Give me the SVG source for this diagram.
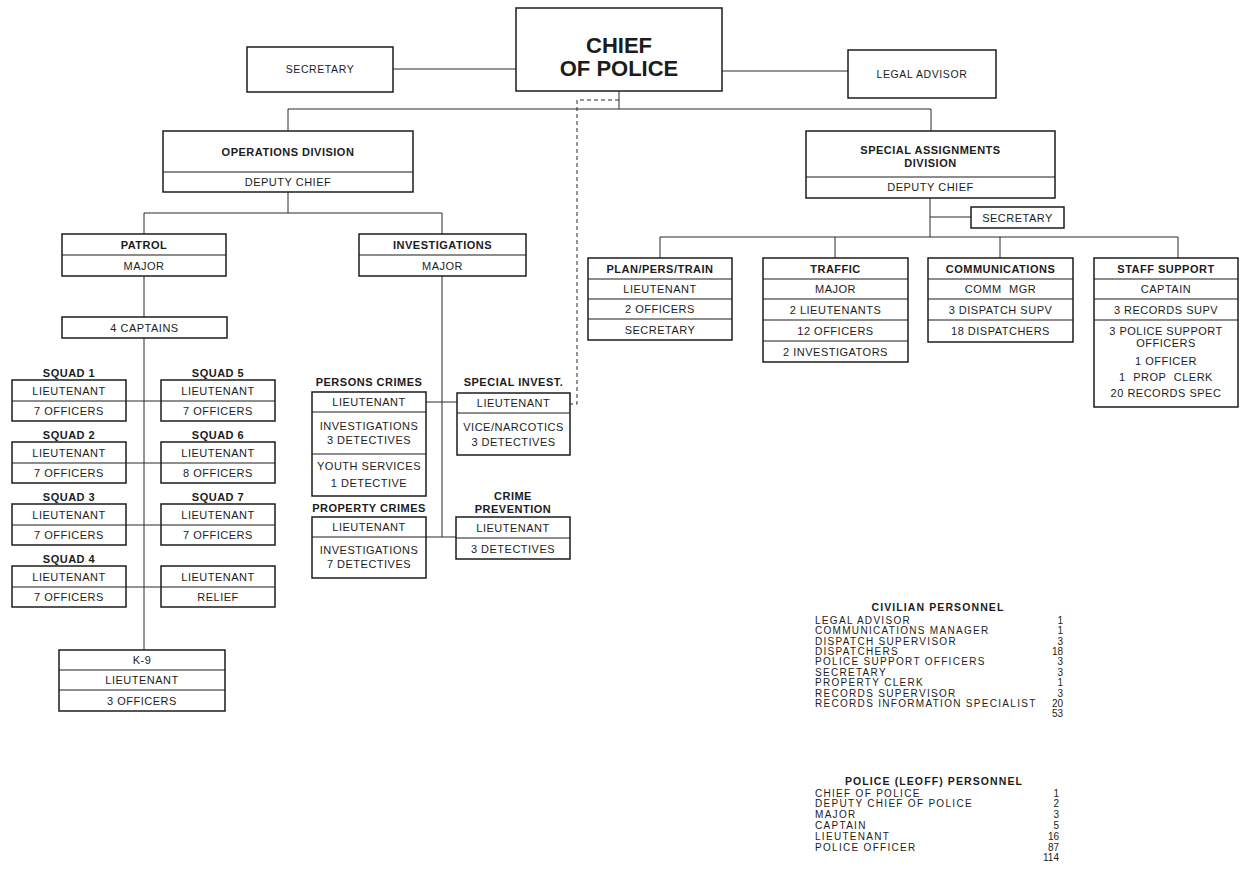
<svg xmlns="http://www.w3.org/2000/svg" width="1241" height="888" viewBox="0 0 1241 888">
<style>
.box{fill:#fff;stroke:#1c1c1c;stroke-width:1.5}
.dv{stroke:#1c1c1c;stroke-width:1.2;fill:none}
.conn{stroke:#2a2a2a;stroke-width:1;fill:none}
.dash{stroke-dasharray:4 3}
text{font-family:"Liberation Sans",Arial,Helvetica,sans-serif;fill:#1c1c1c}
.t{font-size:11px;text-anchor:middle;letter-spacing:0.5px}
.b{font-weight:bold}
.big{font-size:22px;font-weight:bold;text-anchor:middle}
.sm{font-size:10.5px;text-anchor:middle;letter-spacing:0.6px}
.li{font-size:10px;letter-spacing:1.3px}
.lh{font-size:10.5px;font-weight:bold;letter-spacing:1.1px;text-anchor:middle}
.n{font-size:10px;text-anchor:end}
</style>
<rect width="1241" height="888" fill="#fff"/>

<g id="connectors">
  <path class="conn" d="M393 69 H516 M722 71 H848"/>
  <path class="conn" d="M619 91 V109 M288 109 H931 M288 109 V131 M931 109 V131"/>
  <path class="conn dash" d="M619 100 H577 V404 H570"/>
  <path class="conn" d="M288 192 V213 M144 213 H442 M144 213 V234 M442 213 V234"/>
  <path class="conn" d="M144 276 V317 M144 338 V650"/>
  <path class="conn" d="M126 401 H161 M126 463 H161 M126 525 H161 M126 587 H161"/>
  <path class="conn" d="M442 276 V537 M426 402 H457 M426 537 H456"/>
  <path class="conn" d="M930 198 V237 M930 217 H971 M660 237 H1178 M660 237 V258 M835 237 V258 M1000 237 V258 M1178 237 V258"/>
</g>

<g id="chief">
  <rect class="box" x="516" y="8" width="206" height="83"/>
  <text class="big" x="619" y="53">CHIEF</text>
  <text class="big" x="619" y="76">OF POLICE</text>
</g>
<g id="secretary-top">
  <rect class="box" x="247" y="47" width="146" height="45"/>
  <text class="sm" x="320" y="73">SECRETARY</text>
</g>
<g id="legal-advisor">
  <rect class="box" x="848" y="50" width="148" height="48"/>
  <text class="sm" x="922" y="78">LEGAL ADVISOR</text>
</g>

<g id="operations">
  <rect class="box" x="163" y="131" width="250" height="61"/>
  <line class="dv" x1="163" y1="172" x2="413" y2="172"/>
  <text class="t b" x="288" y="156">OPERATIONS DIVISION</text>
  <text class="t" x="288" y="186">DEPUTY CHIEF</text>
</g>

<g id="patrol">
  <rect class="box" x="62" y="234" width="164" height="42"/>
  <line class="dv" x1="62" y1="255" x2="226" y2="255"/>
  <text class="t b" x="144" y="249">PATROL</text>
  <text class="t" x="144" y="270">MAJOR</text>
</g>
<g id="captains">
  <rect class="box" x="62" y="317" width="165" height="21"/>
  <text class="t" x="144.5" y="332">4 CAPTAINS</text>
</g>

<g id="squad1">
  <text class="t b" x="69" y="377">SQUAD 1</text>
  <rect class="box" x="12" y="380" width="114" height="41"/>
  <line class="dv" x1="12" y1="401" x2="126" y2="401"/>
  <text class="t" x="69" y="395">LIEUTENANT</text>
  <text class="t" x="69" y="415">7 OFFICERS</text>
</g>
<g id="squad5">
  <text class="t b" x="218" y="377">SQUAD 5</text>
  <rect class="box" x="161" y="380" width="114" height="41"/>
  <line class="dv" x1="161" y1="401" x2="275" y2="401"/>
  <text class="t" x="218" y="395">LIEUTENANT</text>
  <text class="t" x="218" y="415">7 OFFICERS</text>
</g>
<g id="squad2">
  <text class="t b" x="69" y="439">SQUAD 2</text>
  <rect class="box" x="12" y="442" width="114" height="41"/>
  <line class="dv" x1="12" y1="463" x2="126" y2="463"/>
  <text class="t" x="69" y="457">LIEUTENANT</text>
  <text class="t" x="69" y="477">7 OFFICERS</text>
</g>
<g id="squad6">
  <text class="t b" x="218" y="439">SQUAD 6</text>
  <rect class="box" x="161" y="442" width="114" height="41"/>
  <line class="dv" x1="161" y1="463" x2="275" y2="463"/>
  <text class="t" x="218" y="457">LIEUTENANT</text>
  <text class="t" x="218" y="477">8 OFFICERS</text>
</g>
<g id="squad3">
  <text class="t b" x="69" y="501">SQUAD 3</text>
  <rect class="box" x="12" y="504" width="114" height="41"/>
  <line class="dv" x1="12" y1="525" x2="126" y2="525"/>
  <text class="t" x="69" y="519">LIEUTENANT</text>
  <text class="t" x="69" y="539">7 OFFICERS</text>
</g>
<g id="squad7">
  <text class="t b" x="218" y="501">SQUAD 7</text>
  <rect class="box" x="161" y="504" width="114" height="41"/>
  <line class="dv" x1="161" y1="525" x2="275" y2="525"/>
  <text class="t" x="218" y="519">LIEUTENANT</text>
  <text class="t" x="218" y="539">7 OFFICERS</text>
</g>
<g id="squad4">
  <text class="t b" x="69" y="563">SQUAD 4</text>
  <rect class="box" x="12" y="566" width="114" height="41"/>
  <line class="dv" x1="12" y1="587" x2="126" y2="587"/>
  <text class="t" x="69" y="581">LIEUTENANT</text>
  <text class="t" x="69" y="601">7 OFFICERS</text>
</g>
<g id="relief">
  <rect class="box" x="161" y="566" width="114" height="41"/>
  <line class="dv" x1="161" y1="587" x2="275" y2="587"/>
  <text class="t" x="218" y="581">LIEUTENANT</text>
  <text class="t" x="218" y="601">RELIEF</text>
</g>
<g id="k9">
  <rect class="box" x="59" y="650" width="166" height="61"/>
  <line class="dv" x1="59" y1="670" x2="225" y2="670"/>
  <line class="dv" x1="59" y1="690" x2="225" y2="690"/>
  <text class="t" x="142" y="664">K-9</text>
  <text class="t" x="142" y="684">LIEUTENANT</text>
  <text class="t" x="142" y="705">3 OFFICERS</text>
</g>

<g id="investigations">
  <rect class="box" x="359" y="234" width="167" height="42"/>
  <line class="dv" x1="359" y1="255" x2="526" y2="255"/>
  <text class="t b" x="442.5" y="249">INVESTIGATIONS</text>
  <text class="t" x="442.5" y="270">MAJOR</text>
</g>
<g id="persons-crimes">
  <text class="t b" x="369" y="386">PERSONS CRIMES</text>
  <rect class="box" x="312" y="392" width="114" height="104"/>
  <line class="dv" x1="312" y1="412" x2="426" y2="412"/>
  <line class="dv" x1="312" y1="454" x2="426" y2="454"/>
  <text class="t" x="369" y="406">LIEUTENANT</text>
  <text class="t" x="369" y="430">INVESTIGATIONS</text>
  <text class="t" x="369" y="444">3 DETECTIVES</text>
  <text class="t" x="369" y="470">YOUTH SERVICES</text>
  <text class="t" x="369" y="487">1 DETECTIVE</text>
</g>
<g id="special-invest">
  <text class="t b" x="513.5" y="386">SPECIAL INVEST.</text>
  <rect class="box" x="457" y="393" width="113" height="62"/>
  <line class="dv" x1="457" y1="413" x2="570" y2="413"/>
  <text class="t" x="513.5" y="407">LIEUTENANT</text>
  <text class="t" x="513.5" y="431">VICE/NARCOTICS</text>
  <text class="t" x="513.5" y="446">3 DETECTIVES</text>
</g>
<g id="property-crimes">
  <text class="t b" x="369" y="512">PROPERTY CRIMES</text>
  <rect class="box" x="312" y="517" width="114" height="61"/>
  <line class="dv" x1="312" y1="537" x2="426" y2="537"/>
  <text class="t" x="369" y="531">LIEUTENANT</text>
  <text class="t" x="369" y="554">INVESTIGATIONS</text>
  <text class="t" x="369" y="568">7 DETECTIVES</text>
</g>
<g id="crime-prevention">
  <text class="t b" x="513" y="500">CRIME</text>
  <text class="t b" x="513" y="513">PREVENTION</text>
  <rect class="box" x="456" y="517" width="114" height="42"/>
  <line class="dv" x1="456" y1="538" x2="570" y2="538"/>
  <text class="t" x="513" y="532">LIEUTENANT</text>
  <text class="t" x="513" y="553">3 DETECTIVES</text>
</g>

<g id="special-assignments">
  <rect class="box" x="806" y="131" width="249" height="67"/>
  <line class="dv" x1="806" y1="177" x2="1055" y2="177"/>
  <text class="t b" x="930.5" y="154">SPECIAL ASSIGNMENTS</text>
  <text class="t b" x="930.5" y="167">DIVISION</text>
  <text class="t" x="930.5" y="191">DEPUTY CHIEF</text>
</g>
<g id="secretary-sa">
  <rect class="box" x="971" y="207" width="93" height="21"/>
  <text class="t" x="1017.5" y="222">SECRETARY</text>
</g>
<g id="plan-pers-train">
  <rect class="box" x="588" y="258" width="144" height="82"/>
  <line class="dv" x1="588" y1="279" x2="732" y2="279"/>
  <line class="dv" x1="588" y1="299" x2="732" y2="299"/>
  <line class="dv" x1="588" y1="319" x2="732" y2="319"/>
  <text class="t b" x="660" y="273">PLAN/PERS/TRAIN</text>
  <text class="t" x="660" y="293">LIEUTENANT</text>
  <text class="t" x="660" y="313">2 OFFICERS</text>
  <text class="t" x="660" y="334">SECRETARY</text>
</g>
<g id="traffic">
  <rect class="box" x="763" y="258" width="145" height="104"/>
  <line class="dv" x1="763" y1="279" x2="908" y2="279"/>
  <line class="dv" x1="763" y1="299" x2="908" y2="299"/>
  <line class="dv" x1="763" y1="320" x2="908" y2="320"/>
  <line class="dv" x1="763" y1="341" x2="908" y2="341"/>
  <text class="t b" x="835.5" y="273">TRAFFIC</text>
  <text class="t" x="835.5" y="293">MAJOR</text>
  <text class="t" x="835.5" y="314">2 LIEUTENANTS</text>
  <text class="t" x="835.5" y="335">12 OFFICERS</text>
  <text class="t" x="835.5" y="356">2 INVESTIGATORS</text>
</g>
<g id="communications">
  <rect class="box" x="928" y="258" width="145" height="84"/>
  <line class="dv" x1="928" y1="279" x2="1073" y2="279"/>
  <line class="dv" x1="928" y1="299" x2="1073" y2="299"/>
  <line class="dv" x1="928" y1="320" x2="1073" y2="320"/>
  <text class="t b" x="1000.5" y="273">COMMUNICATIONS</text>
  <text class="t" x="1000.5" y="293" word-spacing="4">COMM MGR</text>
  <text class="t" x="1000.5" y="314">3 DISPATCH SUPV</text>
  <text class="t" x="1000.5" y="335">18 DISPATCHERS</text>
</g>
<g id="staff-support">
  <rect class="box" x="1094" y="258" width="144" height="149"/>
  <line class="dv" x1="1094" y1="279" x2="1238" y2="279"/>
  <line class="dv" x1="1094" y1="299" x2="1238" y2="299"/>
  <line class="dv" x1="1094" y1="320" x2="1238" y2="320"/>
  <text class="t b" x="1166" y="273">STAFF SUPPORT</text>
  <text class="t" x="1166" y="293">CAPTAIN</text>
  <text class="t" x="1166" y="314">3 RECORDS SUPV</text>
  <text class="t" x="1166" y="335">3 POLICE SUPPORT</text>
  <text class="t" x="1166" y="347">OFFICERS</text>
  <text class="t" x="1166" y="365">1 OFFICER</text>
  <text class="t" x="1166" y="381" word-spacing="4">1 PROP CLERK</text>
  <text class="t" x="1166" y="397">20 RECORDS SPEC</text>
</g>

<g id="civilian-personnel">
  <text class="lh" x="938" y="611">CIVILIAN PERSONNEL</text>
  <text class="li" x="815" y="623.5">LEGAL ADVISOR</text>
  <text class="li" x="815" y="634">COMMUNICATIONS MANAGER</text>
  <text class="li" x="815" y="644.5">DISPATCH SUPERVISOR</text>
  <text class="li" x="815" y="654.5">DISPATCHERS</text>
  <text class="li" x="815" y="665">POLICE SUPPORT OFFICERS</text>
  <text class="li" x="815" y="675.5">SECRETARY</text>
  <text class="li" x="815" y="686">PROPERTY CLERK</text>
  <text class="li" x="815" y="696.5">RECORDS SUPERVISOR</text>
  <text class="li" x="815" y="706.5">RECORDS INFORMATION SPECIALIST</text>
  <text class="n" x="1063" y="623.5">1</text>
  <text class="n" x="1063" y="634">1</text>
  <text class="n" x="1063" y="644.5">3</text>
  <text class="n" x="1063" y="654.5">18</text>
  <text class="n" x="1063" y="665">3</text>
  <text class="n" x="1063" y="675.5">3</text>
  <text class="n" x="1063" y="686">1</text>
  <text class="n" x="1063" y="696.5">3</text>
  <text class="n" x="1063" y="706.5">20</text>
  <text class="n" x="1063" y="717">53</text>
</g>

<g id="police-personnel">
  <text class="lh" x="934" y="785">POLICE (LEOFF) PERSONNEL</text>
  <text class="li" x="815" y="796.5">CHIEF OF POLICE</text>
  <text class="li" x="815" y="807">DEPUTY CHIEF OF POLICE</text>
  <text class="li" x="815" y="817.5">MAJOR</text>
  <text class="li" x="815" y="828.5">CAPTAIN</text>
  <text class="li" x="815" y="839.5">LIEUTENANT</text>
  <text class="li" x="815" y="850.5">POLICE OFFICER</text>
  <text class="n" x="1059" y="796.5">1</text>
  <text class="n" x="1059" y="807">2</text>
  <text class="n" x="1059" y="817.5">3</text>
  <text class="n" x="1059" y="828.5">5</text>
  <text class="n" x="1059" y="839.5">16</text>
  <text class="n" x="1059" y="850.5">87</text>
  <text class="n" x="1059" y="860.5">114</text>
</g>
</svg>
